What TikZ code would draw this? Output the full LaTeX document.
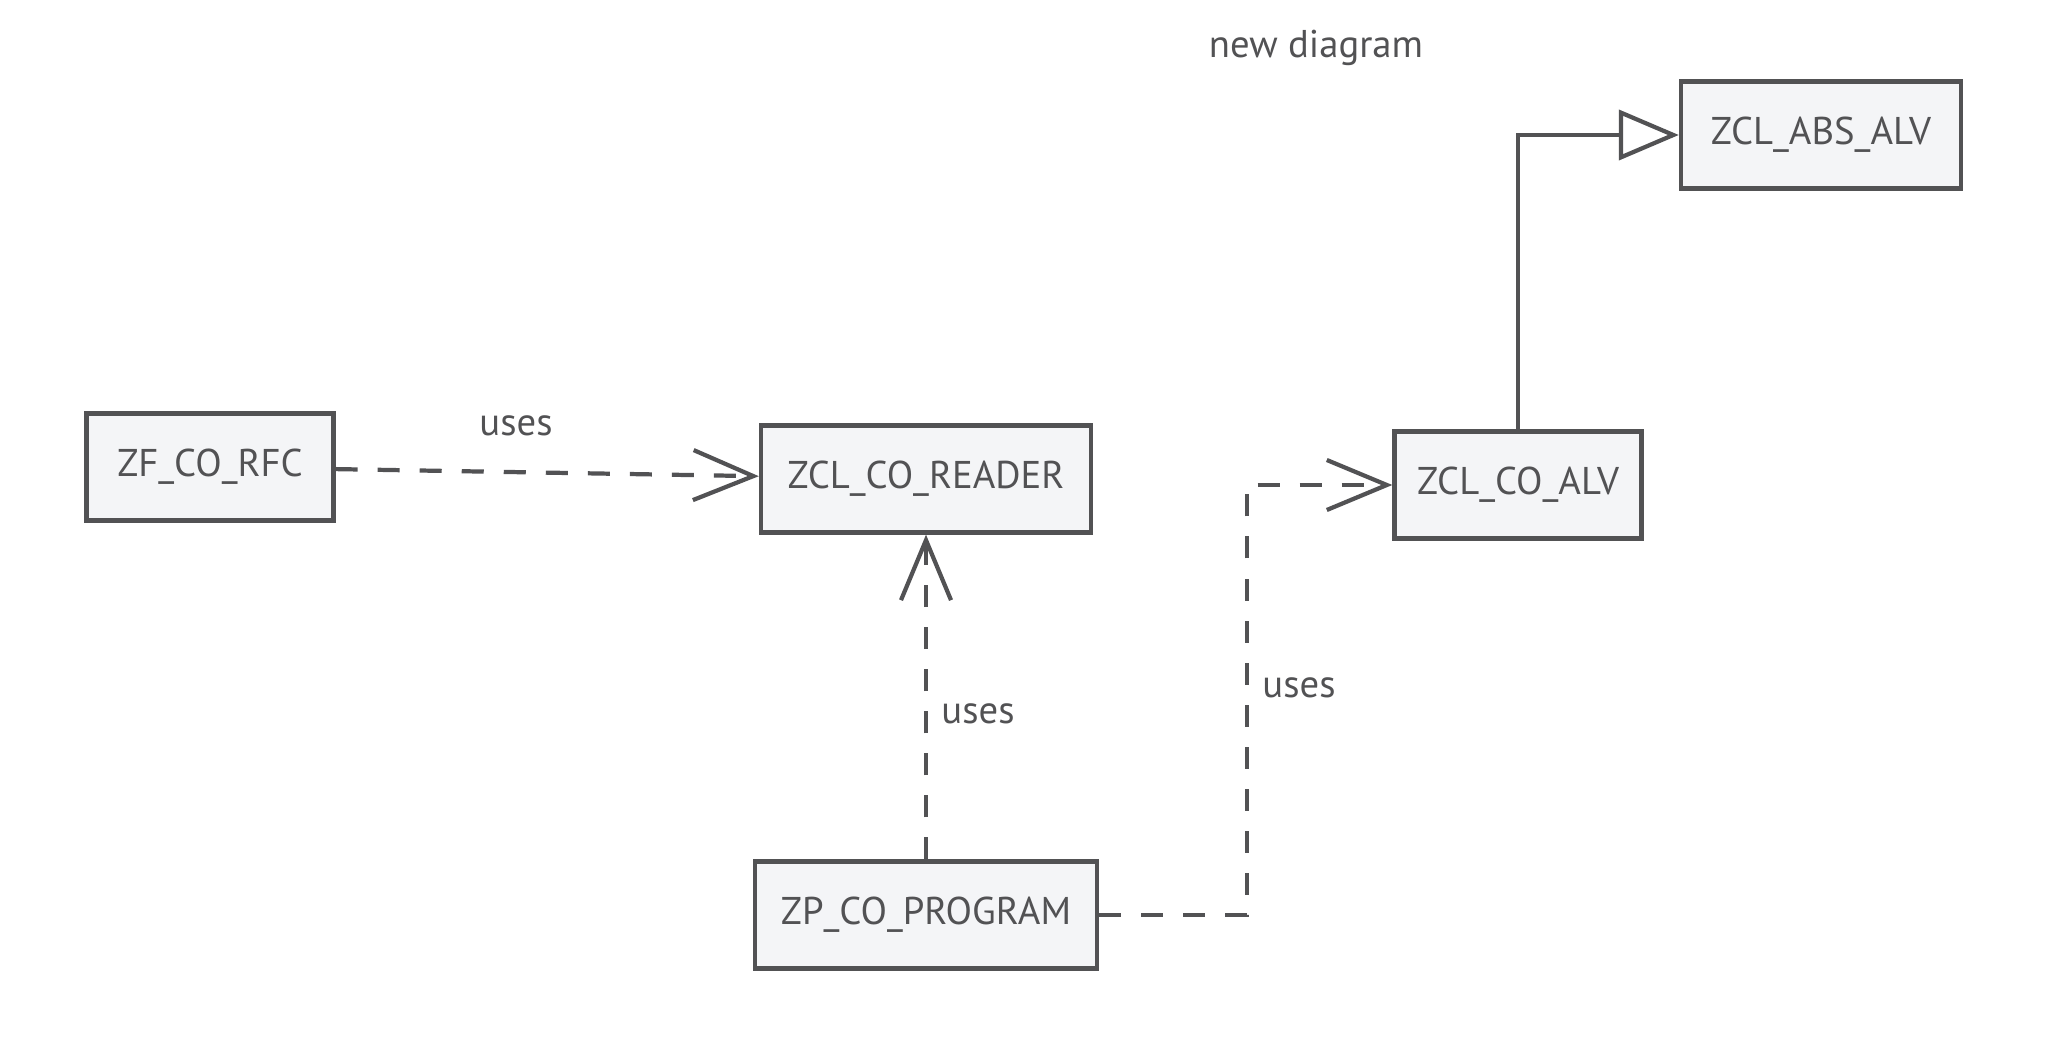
\documentclass[tikz,border=0pt]{standalone}
\usepackage{fontspec}
\setmainfont{PT Sans}
\usetikzlibrary{arrows.meta, positioning}
\definecolor{SkInk}{RGB}{82,82,84}
\definecolor{SkFill}{RGB}{244,245,247}

\begin{document}
\begin{tikzpicture}[x=0.01cm, y=-0.01cm,
          cls/.style={rectangle, draw=SkInk, fill=SkFill, line width=1.2pt,
                      minimum height=1.07cm, font=\fontsize{11}{13}\selectfont,
                      text=SkInk, inner sep=2pt},
          dep/.style={-{Straight Barb[length=6mm, width=5mm, line width=1.2pt]},
                      SkInk, line width=1.2pt, dash pattern=on 2.2mm off 2mm},
          gen/.style={-{Triangle[open, length=6mm, width=5mm, line width=1.2pt]},
                      SkInk, line width=1.2pt},
          lbl/.style={font=\fontsize{11}{13}\selectfont, text=SkInk}
        ]
        \useasboundingbox (0,0) rectangle (2047,1058);

        \node[lbl] (title) at (1316, 48) {new diagram};

        % Classes
        \node[cls, minimum width=2.47cm] (rfc) at (210, 467) {ZF\_CO\_RFC};
        \node[cls, minimum width=3.30cm] (rdr) at (926, 479) {ZCL\_CO\_READER};
        \node[cls, minimum width=3.42cm] (prg) at (926, 915) {ZP\_CO\_PROGRAM};
        \node[cls, minimum width=2.47cm] (alv) at (1518, 485) {ZCL\_CO\_ALV};
        \node[cls, minimum width=2.80cm] (abs) at (1821, 135) {ZCL\_ABS\_ALV};

        % Dependencies
        \coordinate (cx) at (1247, 700);
        \draw[dep] (rfc) -- (rdr);
        \node[lbl] (u1) at (516, 426) {uses};
        \draw[dep] (prg) -- (rdr);
        \node[lbl] (u2) at (978, 714) {uses};
        \draw[dep] (prg.east) -- (prg.east -| cx) -- (alv.west -| cx) -- (alv.west);
        \node[lbl] (u3) at (1299, 688) {uses};

        % Generalisation
        \draw[gen] (alv.north) |- (abs.west);
      \end{tikzpicture}
\end{document}
